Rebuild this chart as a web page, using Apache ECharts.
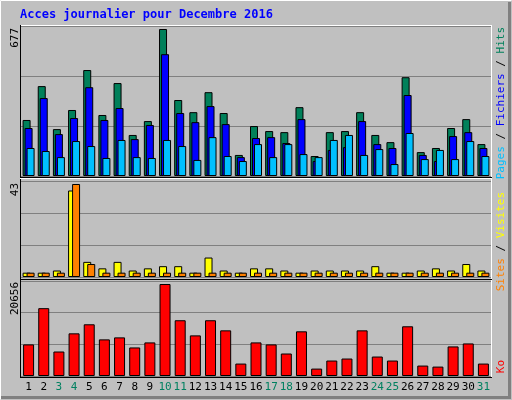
<!DOCTYPE html>
<html><head><meta charset="utf-8">
<script src="https://cdn.jsdelivr.net/npm/echarts@6/dist/echarts.min.js"></script>
<style>html,body{margin:0;padding:0;background:#fff}#c{width:512px;height:400px}</style>
</head><body><div id="c"></div>
<script>
const days = ['1','2','3','4','5','6','7','8','9','10','11','12','13','14','15','16','17','18','19','20','21','22','23','24','25','26','27','28','29','30','31'];
const weekend = ['3','4','10','11','17','18','24','25','31'];
const hits = [258,414,216,304,488,281,428,189,253,677,350,294,386,290,97,230,207,202,317,92,202,207,294,189,156,455,110,129,221,262,147];
const files = [221,359,193,267,409,258,313,170,235,561,290,248,322,239,87,175,179,152,262,69,120,133,253,147,129,373,97,69,184,202,129];
const pages = [129,115,87,161,138,83,166,87,83,166,138,74,179,92,69,147,87,147,101,87,166,189,97,124,55,198,78,120,78,161,92];
const visits = [2,2,3,40,7,4,7,3,4,5,5,2,9,3,2,4,4,3,2,3,3,3,3,5,2,2,3,4,3,6,3];
const sites = [2,2,2,43,6,2,2,2,2,2,2,2,2,2,2,2,2,2,2,2,2,2,2,2,2,2,2,2,2,2,2];
const ko = [7090,15230,5500,9580,11610,8220,8670,6410,7540,20656,12520,9120,12520,10250,2790,7540,7090,5050,10030,1660,3470,3920,10250,4370,3470,11160,2340,2110,6640,7310,2790];
const maxLabels = ['677','43','20656'];

const FONT = 'DejaVu Sans Mono';
const c = echarts.init(document.getElementById('c'), null, {renderer:'canvas'});
const bs = {borderColor:'#000', borderWidth:1};
const grids = [
  {left:21, top:26, width:470, height:150},
  {left:21, top:181, width:470, height:96},
  {left:21, top:281, width:470, height:95}
];
function xa(i, show){
  return {type:'category', gridIndex:i, data:days, boundaryGap:true,
    axisLine:{show:false}, axisTick:{show:false},
    axisLabel:{show:show, interval:0, margin:6, fontFamily:FONT, fontSize:11,
      formatter:v => weekend.includes(v) ? '{w|'+v+'}' : '{n|'+v+'}',
      rich:{w:{color:'#008060',fontFamily:FONT,fontSize:11}, n:{color:'#000',fontFamily:FONT,fontSize:11}}}};
}
function ya(i, max){
  return {type:'value', gridIndex:i, min:0, max:max, interval:max/3,
    axisLabel:{show:false}, axisLine:{show:false}, axisTick:{show:false},
    splitLine:{show:true, lineStyle:{color:'#808080', width:1}}};
}
const rot = Math.PI/2;
c.setOption({
  backgroundColor:'#c0c0c0',
  animation:false,
  grid:grids,
  xAxis:[xa(0,false), xa(1,false), xa(2,true)],
  yAxis:[ya(0, hits[9]*150/147), ya(1, 43*96/93), ya(2, 20656*95/92)],
  series:[
    {type:'bar', xAxisIndex:0, yAxisIndex:0, data:hits, barWidth:8, barGap:'-75%', itemStyle:Object.assign({color:'#00805a'},bs)},
    {type:'bar', xAxisIndex:0, yAxisIndex:0, data:files, barWidth:8, barGap:'-75%', itemStyle:Object.assign({color:'#0000ff'},bs)},
    {type:'bar', xAxisIndex:0, yAxisIndex:0, data:pages, barWidth:8, barGap:'-75%', itemStyle:Object.assign({color:'#00c0ff'},bs)},
    {type:'bar', xAxisIndex:1, yAxisIndex:1, data:visits, barWidth:8, barGap:'-50%', itemStyle:Object.assign({color:'#ffff00'},bs)},
    {type:'bar', xAxisIndex:1, yAxisIndex:1, data:sites, barWidth:8, barGap:'-50%', itemStyle:Object.assign({color:'#ff8000'},bs)},
    {type:'bar', xAxisIndex:2, yAxisIndex:2, data:ko, barWidth:11, itemStyle:Object.assign({color:'#ff0000'},bs)}
  ],
  graphic:[
    {type:'polyline', z:-1, shape:{points:[[0.5,399.5],[0.5,0.5],[511.5,0.5]]}, style:{stroke:'#fff',lineWidth:1,fill:null}},
    {type:'polyline', z:-1, shape:{points:[[1,397.5],[509.5,397.5],[509.5,2]]}, style:{stroke:'#808080',lineWidth:3,fill:null}},
    {type:'line', shape:{x1:20.5,y1:25.5,x2:491.5,y2:25.5}, style:{stroke:'#fff',lineWidth:1}},
    {type:'line', shape:{x1:491.5,y1:25,x2:491.5,y2:377}, style:{stroke:'#fff',lineWidth:1}},
    {type:'line', shape:{x1:20.5,y1:25,x2:20.5,y2:377}, style:{stroke:'#000',lineWidth:1}},
    {type:'line', shape:{x1:20,y1:377.5,x2:492,y2:377.5}, style:{stroke:'#000',lineWidth:1}},
    {type:'line', shape:{x1:20,y1:177.5,x2:492,y2:177.5}, style:{stroke:'#000',lineWidth:1}},
    {type:'line', shape:{x1:20,y1:178.5,x2:492,y2:178.5}, style:{stroke:'#fff',lineWidth:1}},
    {type:'line', shape:{x1:20,y1:279.5,x2:492,y2:279.5}, style:{stroke:'#000',lineWidth:1}},
    {type:'text', x:20, y:15, style:{text:'Acces journalier pour Decembre 2016', fill:'#0000ff', font:'bold 12px "DejaVu Sans Mono"', verticalAlign:'middle'}},
    {type:'text', x:15, y:28, rotation:rot, style:{text:maxLabels[0], fill:'#000', font:'11px "DejaVu Sans Mono"', align:'right', verticalAlign:'middle'}},
    {type:'text', x:15, y:183, rotation:rot, style:{text:maxLabels[1], fill:'#000', font:'11px "DejaVu Sans Mono"', align:'right', verticalAlign:'middle'}},
    {type:'text', x:15, y:282, rotation:rot, style:{text:maxLabels[2], fill:'#000', font:'11px "DejaVu Sans Mono"', align:'right', verticalAlign:'middle'}},
    {type:'text', x:501, y:27, rotation:rot, style:{text:'{p|Pages}{s| / }{f|Fichiers}{s| / }{h|Hits}', align:'right', verticalAlign:'middle', font:'11px "DejaVu Sans Mono"',
      rich:{p:{fill:'#00c0ff',font:'11px "DejaVu Sans Mono"'}, s:{fill:'#000',font:'11px "DejaVu Sans Mono"'}, f:{fill:'#0000ff',font:'11px "DejaVu Sans Mono"'}, h:{fill:'#00805a',font:'11px "DejaVu Sans Mono"'}}}},
    {type:'text', x:501, y:192, rotation:rot, style:{text:'{a|Sites}{s| / }{b|Visites}', align:'right', verticalAlign:'middle', font:'11px "DejaVu Sans Mono"',
      rich:{a:{fill:'#ff8000',font:'11px "DejaVu Sans Mono"'}, s:{fill:'#000',font:'11px "DejaVu Sans Mono"'}, b:{fill:'#ffff00',font:'11px "DejaVu Sans Mono"'}}}},
    {type:'text', x:501, y:360, rotation:rot, style:{text:'Ko', fill:'#ff0000', font:'11px "DejaVu Sans Mono"', align:'right', verticalAlign:'middle'}}
  ]
});
</script></body></html>
